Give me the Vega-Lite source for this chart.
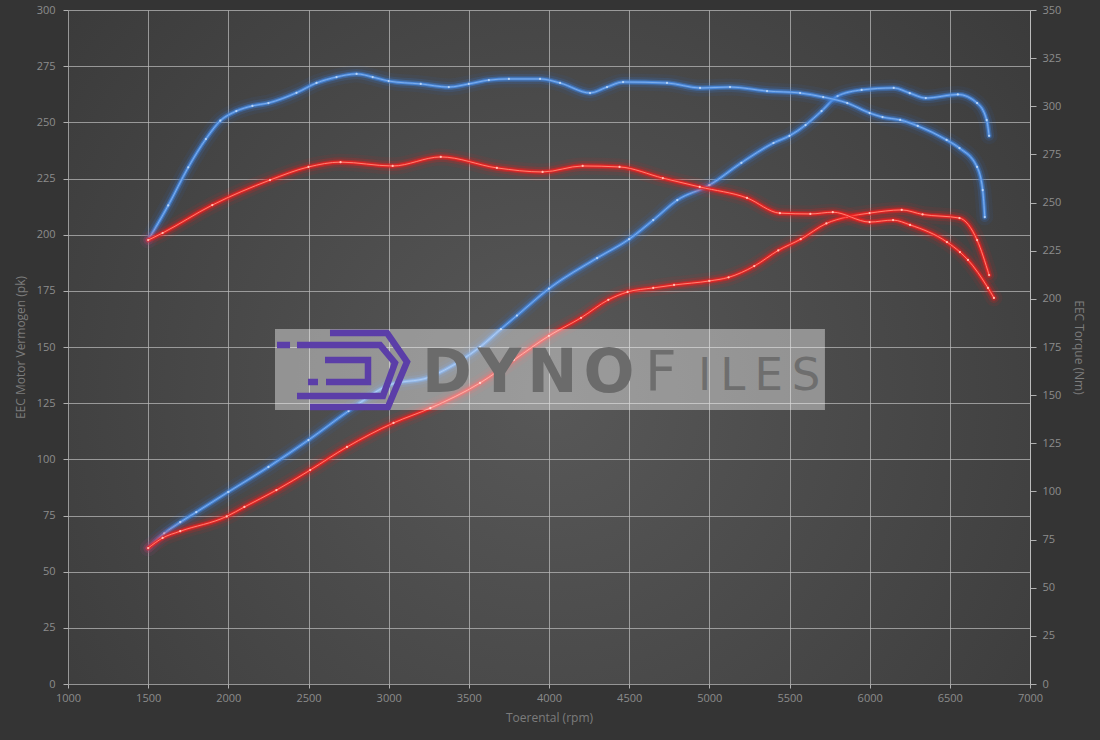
{
  "$schema": "https://vega.github.io/schema/vega-lite/v6.json",
  "width": 962,
  "height": 674,
  "autosize": {"type": "none"},
  "padding": {"left": 68, "top": 10, "right": 70, "bottom": 56},
  "background": "#343434",
  "config": {
    "view": {"stroke": null, "fill": {"gradient": "radial", "x1": 0.5, "y1": 0.55, "r1": 0, "x2": 0.5, "y2": 0.55, "r2": 0.75, "stops": [{"offset": 0, "color": "#585858"}, {"offset": 1, "color": "#363636"}]}},
    "axis": {"labelFont": "Open Sans", "labelFontSize": 11, "labelColor": "#8c8c8c", "titleFont": "Open Sans", "titleFontSize": 12, "titleFontWeight": "normal", "titleColor": "#7c7c7c", "gridColor": "#bbbbbb", "gridOpacity": 0.72, "gridWidth": 1, "tickColor": "#b0b0b0", "domainColor": "#bbbbbb", "zindex": 1}
  },
  "datasets": {
    "blauwVermogen": [
      {"rpm": 1500, "pk": 60.5}, {"rpm": 1600, "pk": 67}, {"rpm": 1700, "pk": 72}, {"rpm": 1800, "pk": 76.5}, {"rpm": 2000, "pk": 85.5}, {"rpm": 2250, "pk": 96.6}, {"rpm": 2500, "pk": 108.6}, {"rpm": 2750, "pk": 121.5}, {"rpm": 3000, "pk": 133}, {"rpm": 3250, "pk": 136.5}, {"rpm": 3450, "pk": 144}, {"rpm": 3570, "pk": 150}, {"rpm": 3700, "pk": 158}, {"rpm": 3800, "pk": 164}, {"rpm": 4000, "pk": 176}, {"rpm": 4300, "pk": 189.6}, {"rpm": 4500, "pk": 198}, {"rpm": 4650, "pk": 206.5}, {"rpm": 4800, "pk": 215.4}, {"rpm": 5000, "pk": 222}, {"rpm": 5200, "pk": 232}, {"rpm": 5400, "pk": 240.8}, {"rpm": 5500, "pk": 244}, {"rpm": 5600, "pk": 248.8}, {"rpm": 5700, "pk": 255}, {"rpm": 5800, "pk": 261.7}, {"rpm": 5950, "pk": 264.4}, {"rpm": 6150, "pk": 265.3}, {"rpm": 6250, "pk": 263}, {"rpm": 6350, "pk": 260.8}, {"rpm": 6550, "pk": 262.4}, {"rpm": 6670, "pk": 258.6}, {"rpm": 6730, "pk": 251}, {"rpm": 6745, "pk": 244}
    ],
    "roodVermogen": [
      {"rpm": 1500, "pk": 60.5}, {"rpm": 1590, "pk": 65}, {"rpm": 1700, "pk": 68}, {"rpm": 1990, "pk": 74.6}, {"rpm": 2100, "pk": 78.8}, {"rpm": 2300, "pk": 86.3}, {"rpm": 2510, "pk": 95.2}, {"rpm": 2740, "pk": 105.5}, {"rpm": 3030, "pk": 116.2}, {"rpm": 3260, "pk": 122.8}, {"rpm": 3570, "pk": 134}, {"rpm": 3780, "pk": 144.2}, {"rpm": 4000, "pk": 155}, {"rpm": 4200, "pk": 163}, {"rpm": 4370, "pk": 171}, {"rpm": 4490, "pk": 174.5}, {"rpm": 4650, "pk": 176.3}, {"rpm": 4780, "pk": 177.6}, {"rpm": 5000, "pk": 179.4}, {"rpm": 5120, "pk": 181}, {"rpm": 5280, "pk": 186}, {"rpm": 5430, "pk": 193}, {"rpm": 5570, "pk": 198}, {"rpm": 5730, "pk": 205}, {"rpm": 5860, "pk": 207.9}, {"rpm": 6000, "pk": 209.6}, {"rpm": 6200, "pk": 211}, {"rpm": 6330, "pk": 209}, {"rpm": 6560, "pk": 207.4}, {"rpm": 6670, "pk": 197.6}, {"rpm": 6745, "pk": 182}
    ],
    "blauwKoppel": [
      {"rpm": 1500, "nm": 230.5}, {"rpm": 1625, "nm": 248.5}, {"rpm": 1750, "nm": 268.3}, {"rpm": 1860, "nm": 283}, {"rpm": 1950, "nm": 292.5}, {"rpm": 2050, "nm": 297.5}, {"rpm": 2150, "nm": 300.2}, {"rpm": 2250, "nm": 301.7}, {"rpm": 2425, "nm": 307}, {"rpm": 2550, "nm": 312.1}, {"rpm": 2675, "nm": 315.2}, {"rpm": 2800, "nm": 316.8}, {"rpm": 2900, "nm": 315.2}, {"rpm": 3000, "nm": 313.1}, {"rpm": 3200, "nm": 311.6}, {"rpm": 3375, "nm": 310}, {"rpm": 3500, "nm": 311.6}, {"rpm": 3625, "nm": 313.6}, {"rpm": 3750, "nm": 314.2}, {"rpm": 3944, "nm": 314.2}, {"rpm": 4069, "nm": 312.1}, {"rpm": 4256, "nm": 306.9}, {"rpm": 4362, "nm": 310}, {"rpm": 4462, "nm": 312.6}, {"rpm": 4736, "nm": 312.1}, {"rpm": 4942, "nm": 309.5}, {"rpm": 5129, "nm": 310}, {"rpm": 5360, "nm": 307.9}, {"rpm": 5566, "nm": 306.9}, {"rpm": 5710, "nm": 304.8}, {"rpm": 5860, "nm": 301.7}, {"rpm": 6000, "nm": 296.5}, {"rpm": 6080, "nm": 294.4}, {"rpm": 6190, "nm": 292.9}, {"rpm": 6300, "nm": 289.8}, {"rpm": 6480, "nm": 282.5}, {"rpm": 6560, "nm": 278.3}, {"rpm": 6670, "nm": 268.5}, {"rpm": 6705, "nm": 256.5}, {"rpm": 6718, "nm": 242.5}
    ],
    "roodKoppel": [
      {"rpm": 1500, "nm": 230.5}, {"rpm": 1590, "nm": 234.2}, {"rpm": 1900, "nm": 248.7}, {"rpm": 2260, "nm": 261.7}, {"rpm": 2500, "nm": 268.5}, {"rpm": 2700, "nm": 271}, {"rpm": 3025, "nm": 269}, {"rpm": 3325, "nm": 273.7}, {"rpm": 3675, "nm": 268}, {"rpm": 3960, "nm": 265.9}, {"rpm": 4210, "nm": 269}, {"rpm": 4440, "nm": 268.5}, {"rpm": 4710, "nm": 262.7}, {"rpm": 4940, "nm": 258.1}, {"rpm": 5235, "nm": 252.4}, {"rpm": 5440, "nm": 244.5}, {"rpm": 5630, "nm": 244.1}, {"rpm": 5770, "nm": 245}, {"rpm": 6000, "nm": 239.9}, {"rpm": 6146, "nm": 240.9}, {"rpm": 6252, "nm": 238.4}, {"rpm": 6482, "nm": 229.5}, {"rpm": 6563, "nm": 224.3}, {"rpm": 6613, "nm": 220.2}, {"rpm": 6738, "nm": 205.7}, {"rpm": 6775, "nm": 200.5}
    ]
  },
  "encoding": {
    "x": {"field": "rpm", "type": "quantitative", "scale": {"domain": [1000, 7000], "nice": false, "zero": false},
      "axis": {"values": [1000, 1500, 2000, 2500, 3000, 3500, 4000, 4500, 5000, 5500, 6000, 6500, 7000], "format": "d", "grid": true, "domain": false, "tickSize": 4, "labelPadding": 4, "labelFlush": false, "title": "Toerental (rpm)", "titleX": 481, "titleY": 33, "titleAlign": "center", "titleBaseline": "middle"}}
  },
  "layer": [
    {
      "encoding": {
        "y": {"field": "pk", "type": "quantitative", "scale": {"domain": [0, 300], "nice": false},
          "axis": {"orient": "left", "values": [0, 25, 50, 75, 100, 125, 150, 175, 200, 225, 250, 275, 300], "grid": true, "domain": false, "tickSize": 5, "labelPadding": 8, "title": "EEC Motor Vermogen (pk)", "titleAngle": 270, "titleX": -48, "titleY": 337, "titleAlign": "center", "titleBaseline": "middle"}}
      },
      "layer": [
        {"data": {"name": "blauwVermogen"}, "mark": {"type": "line", "interpolate": "monotone", "color": "#2f74e0", "strokeWidth": 17, "opacity": 0.07, "strokeCap": "round"}, "encoding": {}},
        {"data": {"name": "blauwVermogen"}, "mark": {"type": "line", "interpolate": "monotone", "color": "#3a7ee0", "strokeWidth": 10, "opacity": 0.16, "strokeCap": "round"}, "encoding": {}},
        {"data": {"name": "blauwVermogen"}, "mark": {"type": "line", "interpolate": "monotone", "color": "#3f84e2", "strokeWidth": 5.5, "opacity": 0.4, "strokeCap": "round"}, "encoding": {}},
        {"data": {"name": "blauwVermogen"}, "mark": {"type": "line", "interpolate": "monotone", "color": "#4d8de2", "strokeWidth": 2.8, "opacity": 0.9, "strokeCap": "round"}, "encoding": {}},
        {"data": {"name": "blauwVermogen"}, "mark": {"type": "line", "interpolate": "monotone", "color": "#86b4ee", "strokeWidth": 1, "opacity": 0.85, "point": {"filled": true, "size": 5, "color": "#b8d4f6"}}, "encoding": {}},
        {"data": {"name": "roodVermogen"}, "mark": {"type": "line", "interpolate": "monotone", "color": "#ff1a1a", "strokeWidth": 17, "opacity": 0.07, "strokeCap": "round"}, "encoding": {}},
        {"data": {"name": "roodVermogen"}, "mark": {"type": "line", "interpolate": "monotone", "color": "#ff1a1a", "strokeWidth": 10, "opacity": 0.17, "strokeCap": "round"}, "encoding": {}},
        {"data": {"name": "roodVermogen"}, "mark": {"type": "line", "interpolate": "monotone", "color": "#f41c1c", "strokeWidth": 5.5, "opacity": 0.42, "strokeCap": "round"}, "encoding": {}},
        {"data": {"name": "roodVermogen"}, "mark": {"type": "line", "interpolate": "monotone", "color": "#f02424", "strokeWidth": 2.8, "opacity": 0.9, "strokeCap": "round"}, "encoding": {}},
        {"data": {"name": "roodVermogen"}, "mark": {"type": "line", "interpolate": "monotone", "color": "#ff8c7a", "strokeWidth": 1, "opacity": 0.9, "point": {"filled": true, "size": 5, "color": "#ffc0b4"}}, "encoding": {}},
        {"data": {"values": [{"rpm": 2291, "rpm2": 5721, "pk": 122, "pk2": 158}]}, "mark": {"type": "rect", "color": "#ffffff", "opacity": 0.4}, "encoding": {"x2": {"field": "rpm2"}, "y2": {"field": "pk2"}}},
        {"data": {"values": [{"rpm": 2709, "pk": 139.8}]}, "mark": {"type": "point", "shape": "M-0.178,-0.548L0.667,-0.548L0.963,-0.119L0.681,0.548L-0.474,0.548M-0.667,-0.37L0.563,-0.37L0.785,-0.104L0.607,0.385L-0.667,0.385M-0.963,-0.37L-0.77,-0.37M-0.252,-0.148L0.385,-0.148L0.385,0.178L-0.237,0.178M-0.504,0.178L-0.356,0.178", "size": 18225, "filled": false, "stroke": "#5b3ea8", "strokeWidth": 6.5, "opacity": 1, "strokeJoin": "miter", "strokeCap": "butt"}, "encoding": {}},
        {"data": {"values": [{"rpm": 3208, "pk": 130, "t": "D\u200aY\u200aN\u200aO"}]}, "mark": {"type": "text", "font": "DejaVu Sans", "fontWeight": "bold", "fontSize": 60, "align": "left", "baseline": "alphabetic", "color": "#6b6b6b"}, "encoding": {"text": {"field": "t"}}},
        {"data": {"values": [{"rpm": 4599, "pk": 130.9, "t": "F"}]}, "mark": {"type": "text", "font": "DejaVu Sans", "fontSize": 55, "align": "left", "baseline": "alphabetic", "color": "#6e6e6e"}, "encoding": {"text": {"field": "t"}}},
        {"data": {"values": [{"rpm": 4930, "pk": 130.9, "t": "I\u2009L\u2009E\u2009S"}]}, "mark": {"type": "text", "font": "DejaVu Sans", "fontSize": 45, "align": "left", "baseline": "alphabetic", "color": "#6e6e6e"}, "encoding": {"text": {"field": "t"}}}
      ]
    },
    {
      "encoding": {
        "y": {"field": "nm", "type": "quantitative", "scale": {"domain": [0, 350], "nice": false},
          "axis": {"orient": "right", "values": [0, 25, 50, 75, 100, 125, 150, 175, 200, 225, 250, 275, 300, 325, 350], "grid": false, "domain": true, "tickSize": 6, "labelPadding": 6, "title": "EEC Torque (Nm)", "titleAngle": 90, "titleX": 48, "titleY": 337, "titleAlign": "center", "titleBaseline": "middle"}}
      },
      "layer": [
        {"data": {"name": "blauwKoppel"}, "mark": {"type": "line", "interpolate": "monotone", "color": "#2f74e0", "strokeWidth": 17, "opacity": 0.07, "strokeCap": "round"}, "encoding": {}},
        {"data": {"name": "blauwKoppel"}, "mark": {"type": "line", "interpolate": "monotone", "color": "#3a7ee0", "strokeWidth": 10, "opacity": 0.16, "strokeCap": "round"}, "encoding": {}},
        {"data": {"name": "blauwKoppel"}, "mark": {"type": "line", "interpolate": "monotone", "color": "#3f84e2", "strokeWidth": 5.5, "opacity": 0.4, "strokeCap": "round"}, "encoding": {}},
        {"data": {"name": "blauwKoppel"}, "mark": {"type": "line", "interpolate": "monotone", "color": "#4d8de2", "strokeWidth": 2.8, "opacity": 0.9, "strokeCap": "round"}, "encoding": {}},
        {"data": {"name": "blauwKoppel"}, "mark": {"type": "line", "interpolate": "monotone", "color": "#86b4ee", "strokeWidth": 1, "opacity": 0.85, "point": {"filled": true, "size": 5, "color": "#b8d4f6"}}, "encoding": {}},
        {"data": {"name": "roodKoppel"}, "mark": {"type": "line", "interpolate": "monotone", "color": "#ff1a1a", "strokeWidth": 17, "opacity": 0.07, "strokeCap": "round"}, "encoding": {}},
        {"data": {"name": "roodKoppel"}, "mark": {"type": "line", "interpolate": "monotone", "color": "#ff1a1a", "strokeWidth": 10, "opacity": 0.17, "strokeCap": "round"}, "encoding": {}},
        {"data": {"name": "roodKoppel"}, "mark": {"type": "line", "interpolate": "monotone", "color": "#f41c1c", "strokeWidth": 5.5, "opacity": 0.42, "strokeCap": "round"}, "encoding": {}},
        {"data": {"name": "roodKoppel"}, "mark": {"type": "line", "interpolate": "monotone", "color": "#f02424", "strokeWidth": 2.8, "opacity": 0.9, "strokeCap": "round"}, "encoding": {}},
        {"data": {"name": "roodKoppel"}, "mark": {"type": "line", "interpolate": "monotone", "color": "#ff8c7a", "strokeWidth": 1, "opacity": 0.9, "point": {"filled": true, "size": 5, "color": "#ffc0b4"}}, "encoding": {}}
      ]
    }
  ],
  "resolve": {"scale": {"y": "independent"}, "axis": {"y": "independent"}}
}
